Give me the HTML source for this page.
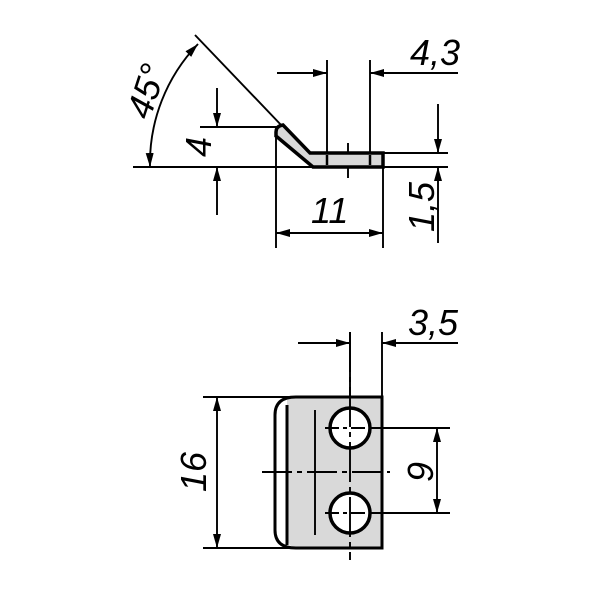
<!DOCTYPE html>
<html><head><style>body{margin:0;background:#fff}svg{display:block}</style></head><body>
<svg width="600" height="600" viewBox="0 0 600 600" xmlns="http://www.w3.org/2000/svg">
<defs>
<marker id="a" viewBox="0 0 14 8" refX="14" refY="4" markerWidth="14" markerHeight="8" orient="auto-start-reverse" markerUnits="userSpaceOnUse"><path d="M0,0L14,4L0,8z" fill="#000"/></marker>
</defs>
<g stroke="#000" stroke-width="1.9" fill="none">
<!-- top view -->
<line x1="133" y1="167" x2="448" y2="167"/>
<line x1="380" y1="153" x2="448" y2="153"/>
<line x1="195" y1="35" x2="283" y2="127"/>
<path d="M150,167 A172,172 0 0 1 198,44" marker-start="url(#a)" marker-end="url(#a)"/>
<line x1="327" y1="60" x2="327" y2="153"/>
<line x1="370" y1="60" x2="370" y2="153"/>
<line x1="277" y1="73" x2="327" y2="73" marker-end="url(#a)"/>
<line x1="458" y1="73" x2="370" y2="73" marker-end="url(#a)"/>
<line x1="200" y1="127" x2="283" y2="127"/>
<line x1="217" y1="88" x2="217" y2="127" marker-end="url(#a)"/>
<line x1="217" y1="215" x2="217" y2="167" marker-end="url(#a)"/>
<line x1="276" y1="137" x2="276" y2="248"/>
<line x1="383" y1="167" x2="383" y2="248"/>
<line x1="276" y1="233" x2="383" y2="233" marker-start="url(#a)" marker-end="url(#a)"/>
<line x1="438" y1="104" x2="438" y2="153" marker-end="url(#a)"/>
<line x1="438" y1="243" x2="438" y2="167" marker-end="url(#a)"/>
<line x1="348" y1="143" x2="348" y2="178"/>
<path d="M276,132 Q276,126 283,125 L310,153 L383,153 L383,167 L313,167 L276,136 Z" fill="#d8d8d8" stroke-width="3.5"/>
<line x1="327" y1="155" x2="327" y2="165" stroke-width="2.5"/>
<line x1="370" y1="155" x2="370" y2="165" stroke-width="2.5"/>
<!-- front view -->
<path d="M287,397 L382,397 L382,548 L298,548 Q287,548 287,535 Z" fill="#d9d9d9" stroke="none"/>
<path d="M296,397 L382,397 L382,548 L296,548 Q275,548 275,530 L275,415 Q275,397 296,397" stroke-width="3"/>
<line x1="287" y1="405" x2="287" y2="545" stroke-width="3"/>
<line x1="203" y1="397" x2="296" y2="397"/>
<line x1="203" y1="548" x2="296" y2="548"/>
<line x1="217" y1="397" x2="217" y2="548" marker-start="url(#a)" marker-end="url(#a)"/>
<line x1="350" y1="332" x2="350" y2="397"/>
<line x1="382" y1="332" x2="382" y2="397"/>
<line x1="298" y1="343" x2="350" y2="343" marker-end="url(#a)"/>
<line x1="458" y1="343" x2="382" y2="343" marker-end="url(#a)"/>
<circle cx="350" cy="428" r="20" fill="#fff" stroke-width="3.5"/>
<circle cx="350" cy="513" r="20" fill="#fff" stroke-width="3.5"/>
<line x1="372" y1="428" x2="450" y2="428"/>
<line x1="372" y1="513" x2="450" y2="513"/>
<line x1="437" y1="428" x2="437" y2="513" marker-start="url(#a)" marker-end="url(#a)"/>
<line x1="262" y1="472" x2="390" y2="472" stroke-dasharray="30,5,5,5"/>
<line x1="315" y1="410" x2="315" y2="535"/>
<line x1="350" y1="332" x2="350" y2="560" stroke-dasharray="40,5,5,5"/>
<line x1="325" y1="428" x2="375" y2="428" stroke-dasharray="14,4,4,4"/>
<line x1="325" y1="513" x2="375" y2="513" stroke-dasharray="14,4,4,4"/>
</g>
<g font-family="Liberation Sans, sans-serif" font-style="italic" font-size="36" fill="#000">
<text x="410" y="65">4,3</text>
<text x="408" y="335">3,5</text>
<text x="311" y="223">11</text>
<text transform="translate(158,95) rotate(-72)" text-anchor="middle">45°</text>
<text transform="translate(211,147) rotate(-90)" text-anchor="middle">4</text>
<text transform="translate(434,207) rotate(-90)" text-anchor="middle">1,5</text>
<text transform="translate(206,472) rotate(-90)" text-anchor="middle">16</text>
<text transform="translate(433,472) rotate(-90)" text-anchor="middle">9</text>
</g>
</svg>
</body></html>
